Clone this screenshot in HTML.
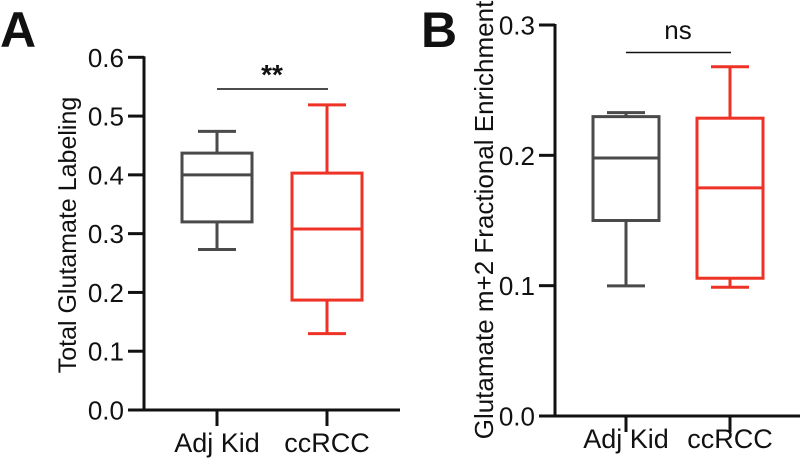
<!DOCTYPE html>
<html><head><meta charset="utf-8"><style>
html,body{margin:0;padding:0;background:#fff;}
svg{display:block;font-family:"Liberation Sans",Arial,sans-serif;}
</style></head><body>
<svg id="chart" width="800" height="464" viewBox="0 0 800 464"></svg>
<script>
const categories = ["Adj Kid", "ccRCC"];
const colors = ["#4a4a4a", "#ee3326"];
// [min, q1, median, q3, max]
const statsA = [[0.273, 0.320, 0.400, 0.437, 0.474], [0.130, 0.187, 0.308, 0.403, 0.519]];
const statsB = [[0.0998, 0.150, 0.198, 0.2297, 0.2328], [0.0988, 0.1057, 0.175, 0.2285, 0.268]];
const ticksA = ["0.0","0.1","0.2","0.3","0.4","0.5","0.6"];
const ticksB = ["0.0","0.1","0.2","0.3"];
const sigA = "**", sigB = "ns";

const svg = document.getElementById('chart');
const NS = "http://www.w3.org/2000/svg";
function mk(tag, attrs, parent){ const e=document.createElementNS(NS,tag); for(const k in attrs) e.setAttribute(k,attrs[k]); (parent||svg).appendChild(e); return e; }

function panel(cfg){
  const g = mk('g',{});
  
  
  const y = v => cfg.y0 - (v - 0) / cfg.ymax * (cfg.y0 - cfg.y1);
  const x = i => cfg.xs[i];
  const L = mk('text',{x:cfg.letterX,y:47,'font-size':50,'font-weight':'bold',fill:'#111'},g);
  L.textContent = cfg.letter;
  
  
  const ya = mk('line',{x1:cfg.ax,y1:cfg.y1-1,x2:cfg.ax,y2:cfg.y0,stroke:'#111','stroke-width':3},g);
  
  
  const xa = mk('line',{x1:cfg.ax-16,y1:cfg.y0,x2:cfg.axEnd,y2:cfg.y0,stroke:'#111','stroke-width':3},g);
  
  
  cfg.ticks.forEach(t=>{
    const v = parseFloat(t), yy = y(v);
    mk('line',{x1:cfg.ax-16,y1:yy,x2:cfg.ax,y2:yy,stroke:'#111','stroke-width':3},g);
    const tx = mk('text',{x:cfg.ax-20,y:yy+9.5,'font-size':26,'text-anchor':'end',fill:'#111'},g);
    tx.textContent = t;
    
    
  });
  const yl = mk('text',{x:0,y:0,'font-size':cfg.ylSize,'text-anchor':'middle',fill:'#111',transform:`translate(${cfg.ylX},${cfg.ylY}) rotate(-90)`},g);
  yl.textContent = cfg.ylabel;
  
  
  categories.forEach((c,i)=>{
    const cx = x(i);
    mk('line',{x1:cx,y1:cfg.y0,x2:cx,y2:cfg.y0+16,stroke:'#111','stroke-width':3},g);
    const t = mk('text',{x:cx,y:cfg.y0+cfg.xlOff,'font-size':27,'text-anchor':'middle',fill:'#111'},g);
    t.textContent = c;
    
    
    const s = cfg.stats[i], col = colors[i];
    const bg = mk('g',{stroke:col,'stroke-width':3,fill:'none'},g);
    
    
    const hw = cfg.bw/2;
    mk('line',{x1:cx,y1:y(s[0]),x2:cx,y2:y(s[1])},bg);
    mk('line',{x1:cx,y1:y(s[3]),x2:cx,y2:y(s[4])},bg);
    mk('line',{x1:cx-19,y1:y(s[0]),x2:cx+19,y2:y(s[0])},bg);
    mk('line',{x1:cx-19,y1:y(s[4]),x2:cx+19,y2:y(s[4])},bg);
    mk('rect',{x:cx-hw,y:y(s[3]),width:cfg.bw,height:y(s[1])-y(s[3])},bg);
    mk('line',{x1:cx-hw,y1:y(s[2]),x2:cx+hw,y2:y(s[2])},bg);
  });
  const sl = mk('line',{x1:x(0),y1:cfg.sigY,x2:x(1)+1,y2:cfg.sigY,stroke:'#111','stroke-width':1.5},g);
  
  
  const st = mk('text',{x:(x(0)+x(1))/2,y:cfg.sigTY,'font-size':cfg.sigSize,'font-weight':cfg.sigW,'text-anchor':'middle',fill:'#111'},g);
  st.textContent = cfg.sig;
  
  
}
panel({name:'panel-a',letter:'A',letterX:0,ax:144,axEnd:400,y0:410,y1:57.3,ymax:0.6,xs:[217,327],bw:70,xlOff:42,
  stats:statsA,ticks:ticksA,ylabel:'Total Glutamate Labeling',ylX:76,ylY:235,ylSize:25,
  sigY:89,sigTY:84,sig:sigA,sigSize:28,sigW:'bold'});
panel({name:'panel-b',letter:'B',letterX:421,ax:555,axEnd:800,y0:416,y1:25,ymax:0.3,xs:[626,730],bw:66,xlOff:32,
  stats:statsB,ticks:ticksB,ylabel:'Glutamate m+2 Fractional Enrichment',ylX:493,ylY:220,ylSize:26,
  sigY:52.5,sigTY:39,sig:sigB,sigSize:26,sigW:'normal'});
</script>
</body></html>
